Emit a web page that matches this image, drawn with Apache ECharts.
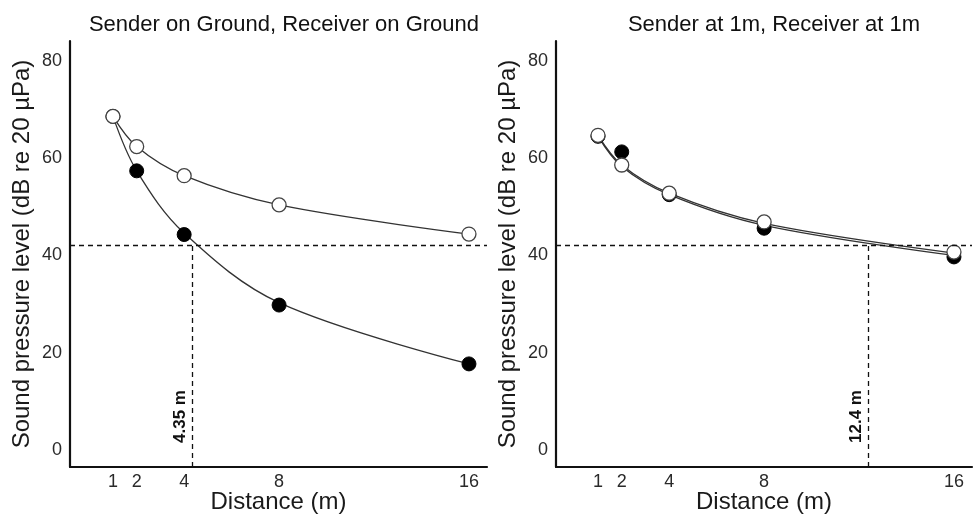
<!DOCTYPE html>
<html>
<head>
<meta charset="utf-8">
<script src="https://cdn.jsdelivr.net/npm/echarts@6/dist/echarts.min.js"></script>
<style>
  html, body { margin: 0; padding: 0; background: #fff; }
  #chart { width: 977px; height: 516px; }
</style>
</head>
<body>
<div id="chart"></div>
<script>
// distances (m) and tick labels
const distances = [1, 2, 4, 8, 16];
const xTicks = [1, 2, 4, 8, 16];
const yTicks = [0, 20, 40, 60, 80];

// panel titles
const titles = ['Sender on Ground, Receiver on Ground', 'Sender at 1m, Receiver at 1m'];

// measured levels (dB): filled = black dots, open = white dots
const groundFilled = [68.6, 57.4, 44.3, 29.8, 17.7];
const groundOpen = [68.6, 62.4, 56.4, 50.4, 44.4];
const highFilled = [64.5, 61.3, 52.5, 45.6, 39.7];
const highOpen = [64.7, 58.6, 52.8, 46.9, 40.7];

// fitted curves read at the same distances
const groundFilledFit = [68.6, 57.4, 44.6, 30.3, 17.7];
const groundOpenFit = [68.6, 62.4, 56.4, 50.4, 44.4];
const highFilledFit = [64.5, 58.3, 52.5, 46.2, 40.0];
const highOpenFit = [64.7, 58.6, 52.8, 46.6, 40.5];

// threshold level and the distances where it is reached
const threshold = 42.1;
const crossings = [4.35, 12.4];
const crossingLabels = ['4.35 m', '12.4 m'];

const Y_MIN = -3.5, Y_MAX = 84.1;
const FONT = 'Arial, "Liberation Sans", sans-serif';

const pairs = (xs, ys) => xs.map((x, i) => [x, ys[i]]);

const chart = echarts.init(document.getElementById('chart'));

const grids = [
  { left: 70, top: 41, width: 417, bottom: 49, containLabel: false, outerBoundsMode: 'none' },
  { left: 556, top: 41, width: 416, bottom: 49, containLabel: false, outerBoundsMode: 'none' }
];

function xAxis(idx, min) {
  return {
    type: 'value', gridIndex: idx, min: min, max: 16.76,
    name: 'Distance (m)', nameLocation: 'middle', nameGap: 23, nameMoveOverlap: false,
    nameTextStyle: { fontSize: 24, color: '#1a1a1a', fontFamily: FONT },
    axisLine: { show: true, onZero: false, lineStyle: { color: '#111', width: 2.2 } },
    axisTick: { show: false },
    splitLine: { show: false },
    axisLabel: { customValues: xTicks, fontSize: 18, color: '#2a2a2a', margin: 6, fontFamily: FONT }
  };
}

function yAxis(idx) {
  return {
    type: 'value', gridIndex: idx, min: Y_MIN, max: Y_MAX,
    name: 'Sound pressure level (dB re 20 µPa)', nameLocation: 'middle', nameGap: 36, nameMoveOverlap: false,
    nameTextStyle: { fontSize: 24, color: '#1a1a1a', fontFamily: FONT },
    axisLine: { show: true, onZero: false, lineStyle: { color: '#111', width: 2.2 } },
    axisTick: { show: false },
    splitLine: { show: false },
    axisLabel: { customValues: yTicks, fontSize: 18, color: '#2a2a2a', margin: 8, fontFamily: FONT }
  };
}

function fitLine(idx, data, marks) {
  const s = {
    type: 'line', xAxisIndex: idx, yAxisIndex: idx,
    data: data, smooth: 0.35,
    showSymbol: false, silent: true, z: 2,
    lineStyle: { color: '#333', width: 1.3 }
  };
  if (marks) {
    s.markLine = {
      silent: true, symbol: 'none', animation: false,
      lineStyle: { color: '#111', type: [5, 4], width: 1.3 },
      label: { show: false },
      data: [
        { yAxis: threshold },
        [
          {
            coord: [marks.x, Y_MIN],
            label: {
              show: true, formatter: marks.label, position: 'insideStartTop',
              distance: 4, padding: [0, 0, 0, 20],
              fontSize: 17, fontWeight: 'bold', color: '#111', fontFamily: FONT
            }
          },
          { coord: [marks.x, threshold] }
        ]
      ]
    };
  }
  return s;
}

function dots(idx, data, filled) {
  return {
    type: 'scatter', xAxisIndex: idx, yAxisIndex: idx,
    data: data, symbol: 'circle', symbolSize: 14, z: filled ? 3 : 4,
    itemStyle: filled
      ? { color: '#000', borderColor: '#000', borderWidth: 1, opacity: 1 }
      : { color: '#fff', borderColor: '#444', borderWidth: 1.3, opacity: 1 }
  };
}

const option = {
  animation: false,
  backgroundColor: '#fff',
  title: [
    { text: titles[0], left: 279, top: 9, textAlign: 'center',
      textStyle: { fontSize: 22, fontWeight: 'normal', color: '#111', fontFamily: FONT } },
    { text: titles[1], left: 769, top: 9, textAlign: 'center',
      textStyle: { fontSize: 22, fontWeight: 'normal', color: '#111', fontFamily: FONT } }
  ],
  grid: grids,
  xAxis: [xAxis(0, -0.81), xAxis(1, -0.77)],
  yAxis: [yAxis(0), yAxis(1)],
  series: [
    fitLine(0, pairs(distances, groundFilledFit), { x: crossings[0], label: crossingLabels[0] }),
    fitLine(0, pairs(distances, groundOpenFit)),
    dots(0, pairs(distances, groundFilled), true),
    dots(0, pairs(distances, groundOpen), false),
    fitLine(1, pairs(distances, highFilledFit), { x: crossings[1], label: crossingLabels[1] }),
    fitLine(1, pairs(distances, highOpenFit)),
    dots(1, pairs(distances, highFilled), true),
    dots(1, pairs(distances, highOpen), false)
  ]
};

chart.setOption(option);
</script>
</body>
</html>
